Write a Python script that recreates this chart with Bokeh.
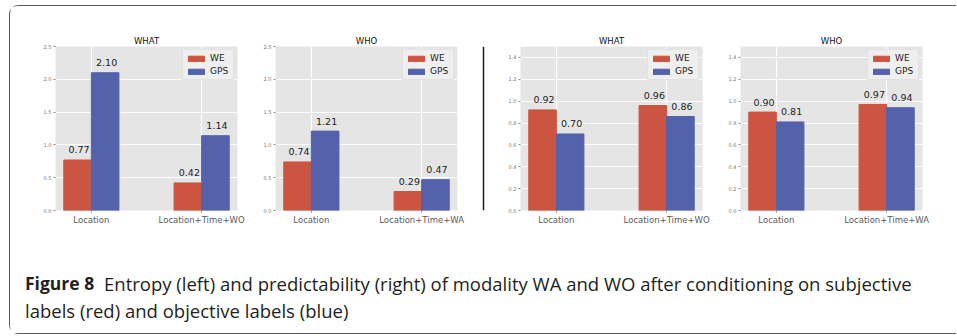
from bokeh.plotting import figure
from bokeh.layouts import row, column
from bokeh.models import (Range1d, FixedTicker, ColumnDataSource, Span, Label,
                          PrintfTickFormatter)
from bokeh.core.properties import value
from bokeh.embed import file_html
from bokeh.resources import INLINE

# ---- data -------------------------------------------------------------
series_names = ["WE", "GPS"]
cats_what = ["Location", "Location+Time+WO"]
cats_who = ["Location", "Location+Time+WA"]

entropy_what_we = [0.77, 0.42]
entropy_what_gps = [2.10, 1.14]
entropy_who_we = [0.74, 0.29]
entropy_who_gps = [1.21, 0.47]

pred_what_we = [0.92, 0.96]
pred_what_gps = [0.70, 0.86]
pred_who_we = [0.90, 0.97]
pred_who_gps = [0.81, 0.94]

entropy_ticks = [0.0, 0.5, 1.0, 1.5, 2.0, 2.5]
pred_ticks = [0.0, 0.2, 0.4, 0.6, 0.8, 1.0, 1.2, 1.4]

caption_bold = "Figure 8"
caption_line1 = ("Entropy (left) and predictability (right) of modality WA and WO "
                 "after conditioning on subjective")
caption_line2 = "labels (red) and objective labels (blue)"

# ---- styling ----------------------------------------------------------
RED = "#CB5540"
BLUE = "#5461AB"
BG = "#E5E5E5"
FONT = value("DejaVu Sans")
BAR_W = 0.25
PANEL_H = 234


def panel(title, cats, we, gps, yticks, ymax, width, left, right):
    p = figure(width=width, height=PANEL_H,
               x_range=Range1d(-0.325, 1.325), y_range=Range1d(0, ymax),
               output_backend="svg", toolbar_location=None,
               min_border_left=left, min_border_right=right,
               min_border_top=40, min_border_bottom=30, title=title)
    p.background_fill_color = BG
    p.border_fill_color = "white"
    p.outline_line_color = None

    idx = list(range(len(cats)))
    src_we = ColumnDataSource(dict(
        x=[i - BAR_W / 2 for i in idx], top=we,
        label=["%.2f" % v for v in we]))
    src_gps = ColumnDataSource(dict(
        x=[i + BAR_W / 2 for i in idx], top=gps,
        label=["%.2f" % v for v in gps]))

    p.vbar(x="x", top="top", width=BAR_W, source=src_we, color=RED,
           legend_label=series_names[0])
    p.vbar(x="x", top="top", width=BAR_W, source=src_gps, color=BLUE,
           legend_label=series_names[1])

    for src in (src_we, src_gps):
        p.text(x="x", y="top", text="label", source=src,
               x_offset=1.5, y_offset=-10,
               text_align="center", text_baseline="middle",
               text_font=FONT, text_font_size="9.5px", text_color="#222222")

    xt = FixedTicker(ticks=idx)
    p.xaxis.ticker = xt
    p.xaxis.major_label_overrides = {i: c for i, c in zip(idx, cats)}
    p.yaxis.ticker = FixedTicker(ticks=yticks)
    p.yaxis.formatter = PrintfTickFormatter(format="%.1f")

    for ax in (p.xaxis, p.yaxis):
        ax.axis_line_color = None
        ax.major_tick_line_color = "#8a8a8a"
        ax.major_tick_out = 2
        ax.major_tick_in = 0
        ax.minor_tick_line_color = None
        ax.major_label_text_font = "DejaVu Sans"
        ax.major_label_standoff = 2
    p.xaxis.major_label_text_font_size = "8.5px"
    p.xaxis.major_label_text_color = "#5a5a5a"
    p.yaxis.major_label_text_font_size = "5px"
    p.yaxis.major_label_text_color = "#777777"

    p.xgrid.ticker = xt
    p.grid.grid_line_color = "white"
    p.grid.grid_line_width = 1.2

    p.title.align = "center"
    p.title.text_font = "DejaVu Sans"
    p.title.text_font_style = "normal"
    p.title.text_font_size = "8.5px"
    p.title.text_color = "#111111"
    p.title.standoff = 1

    lg = p.legend[0]
    lg.location = "top_right"
    lg.glyph_width = 20
    lg.glyph_height = 7
    lg.label_height = 9
    lg.label_standoff = 4
    lg.spacing = 3
    lg.padding = 3
    lg.margin = 3
    lg.label_text_font = "DejaVu Sans"
    lg.label_text_font_size = "9px"
    lg.label_text_color = "#222222"
    lg.background_fill_color = "#EFEFEF"
    lg.background_fill_alpha = 1
    lg.border_line_color = "#D5D5D5"
    lg.border_line_width = 1
    return p


p1 = panel("WHAT", cats_what, entropy_what_we, entropy_what_gps,
           entropy_ticks, 2.5, 237, 45, 10)
p2 = panel("WHO", cats_who, entropy_who_we, entropy_who_gps,
           entropy_ticks, 2.5, 226, 28, 16)
p3 = panel("WHAT", cats_what, pred_what_we, pred_what_gps,
           pred_ticks, 1.5, 219, 27, 10)
p4 = panel("WHO", cats_who, pred_who_we, pred_who_gps,
           pred_ticks, 1.5, 230, 28, 20)

# thin vertical rule between the entropy and predictability panels
div = figure(width=20, height=PANEL_H, x_range=Range1d(0, 1), y_range=Range1d(0, 1),
             x_axis_type=None, y_axis_type=None, output_backend="svg",
             toolbar_location=None, min_border_top=24, min_border_bottom=3,
             min_border_left=0, min_border_right=0)
div.grid.visible = False
div.outline_line_color = None
div.add_layout(Span(location=0.5, dimension="height", line_color="#1e1e1e",
                    line_width=1.5))

# caption
CAP_W, CAP_H = 946, 93
cap = figure(width=CAP_W, height=CAP_H, x_range=Range1d(0, CAP_W),
             y_range=Range1d(0, CAP_H), x_axis_type=None, y_axis_type=None,
             output_backend="svg", toolbar_location=None, min_border=0)
cap.grid.visible = False
cap.outline_line_color = None
cap_font = "Open Sans"
cap.add_layout(Label(x=14.5, y=50.5, text=caption_bold, text_font=cap_font,
                     text_font_style="bold", text_font_size="17.5px",
                     text_color="#231F20", text_baseline="middle"))
cap.add_layout(Label(x=93.5, y=50.5, text=caption_line1, text_font=cap_font,
                     text_font_size="18.5px", text_color="#231F20",
                     text_baseline="middle"))
cap.add_layout(Label(x=14.5, y=23.5, text=caption_line2, text_font=cap_font,
                     text_font_size="18.5px", text_color="#231F20",
                     text_baseline="middle"))

layout = column(row(p1, p2, div, p3, p4), cap,
                margin=(5, 0, 0, 9),
                styles={"border-top": "1.5px solid #5c5c5c",
                        "border-left": "1.5px solid #5c5c5c",
                        "border-bottom": "1.5px solid #5c5c5c",
                        "border-top-left-radius": "9px",
                        "border-bottom-left-radius": "9px"})

open("out.html", "w").write(file_html(layout, INLINE))
